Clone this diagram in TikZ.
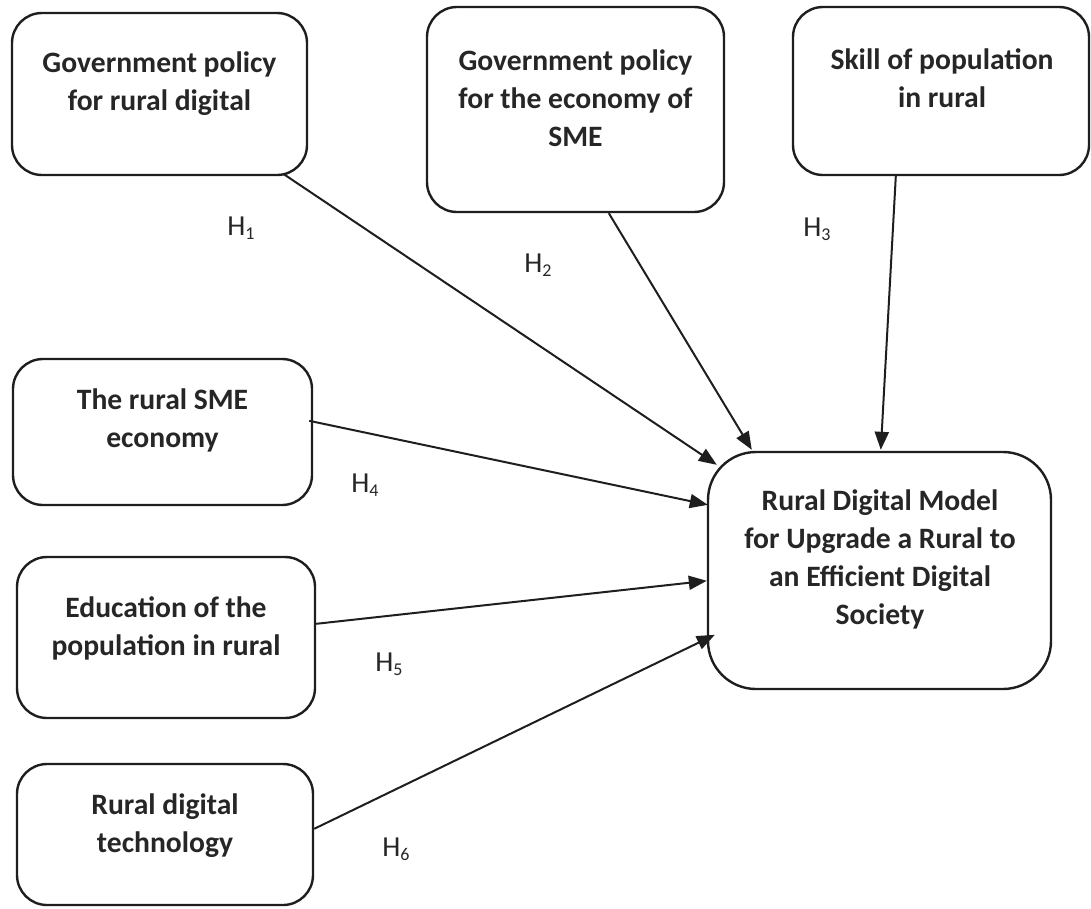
\documentclass[tikz,border=0pt]{standalone}
\usepackage{fontspec}
\setmainfont{Carlito}
\usetikzlibrary{arrows.meta,calc}
\definecolor{ink}{HTML}{1E1E1E}
\definecolor{txt}{HTML}{262626}
\newcommand{\hyp}[1]{H{\fontsize{18}{18}\selectfont\raisebox{-4pt}{#1}}}
\begin{document}
\begin{tikzpicture}[x=1pt,y=-1pt,
  box/.style={draw=ink, line width=2.4pt, rounded corners=30pt, inner sep=0pt},
  bigbox/.style={box, rounded corners=48pt},
  % captions are placed by the baseline of their last line
  boxtext/.style={anchor=base, align=center, inner sep=0pt, text=txt,
    font=\fontsize{29.6}{38}\selectfont\bfseries},
  hlabel/.style={anchor=base, inner sep=0pt, text=txt, font=\fontsize{29}{29}\selectfont},
  link/.style={draw=ink, line width=2pt, -{Triangle[length=18pt,width=14pt]}}]
\useasboundingbox (0,0) rectangle (1091,908);

% factor boxes
\node[box, minimum width=295pt, minimum height=162pt] (b1) at (159.5,94) {};
\node[box, minimum width=297pt, minimum height=205pt] (b2) at (575.5,109.5) {};
\node[box, minimum width=296pt, minimum height=168pt] (b3) at (941,91) {};
\node[box, minimum width=299pt, minimum height=146pt] (b4) at (162.5,432) {};
\node[box, minimum width=298pt, minimum height=161pt] (b5) at (166,637.5) {};
\node[box, minimum width=296pt, minimum height=141pt] (b6) at (165,834.5) {};
% outcome box
\node[bigbox, minimum width=343pt, minimum height=237pt] (m) at (879.5,570.5) {};

% box captions
\node[boxtext] (t1) at (159.5,110) {Government policy\\for rural digital};
\node[boxtext] (t2) at (575.5,146) {Government policy\\for the economy of\\SME};
\node[boxtext] (t3) at (942,107) {Skill of population\\in rural};
\node[boxtext] (t4) at (162.5,447) {The rural SME\\economy};
\node[boxtext] (t5) at (166,655) {Education of the\\population in rural};
\node[boxtext] (t6) at (165,852) {Rural digital\\technology};
\node[boxtext] (tm) at (880,624) {Rural Digital Model\\for Upgrade a Rural to\\an Efficient Digital\\Society};

% hypothesis paths
\draw[link] ($(b1.south west)+(273,-2)$) -- ($(m.north west)+(10,14)$);
\draw[link] ($(b2.south west)+(183,0)$) -- ($(m.north west)+(45,-1)$);
\draw[link] ($(b3.south west)+(104,0)$) -- ($(m.north west)+(174,-1)$);
\draw[link] ($(b4.north east)+(-4,63)$) -- ($(m.north west)+(1,54)$);
\draw[link] ($(b5.north east)+(0,68)$) -- ($(m.north west)+(0,130)$);
\draw[link] ($(b6.north east)+(0,66)$) -- ($(m.north west)+(8,184)$);

% hypothesis labels
\node[hlabel] (h1) at (241,235) {\hyp{1}};
\node[hlabel] (h2) at (538,272) {\hyp{2}};
\node[hlabel] (h3) at (817,236) {\hyp{3}};
\node[hlabel] (h4) at (365,492) {\hyp{4}};
\node[hlabel] (h5) at (389,671) {\hyp{5}};
\node[hlabel] (h6) at (396,856) {\hyp{6}};
\end{tikzpicture}
\end{document}
